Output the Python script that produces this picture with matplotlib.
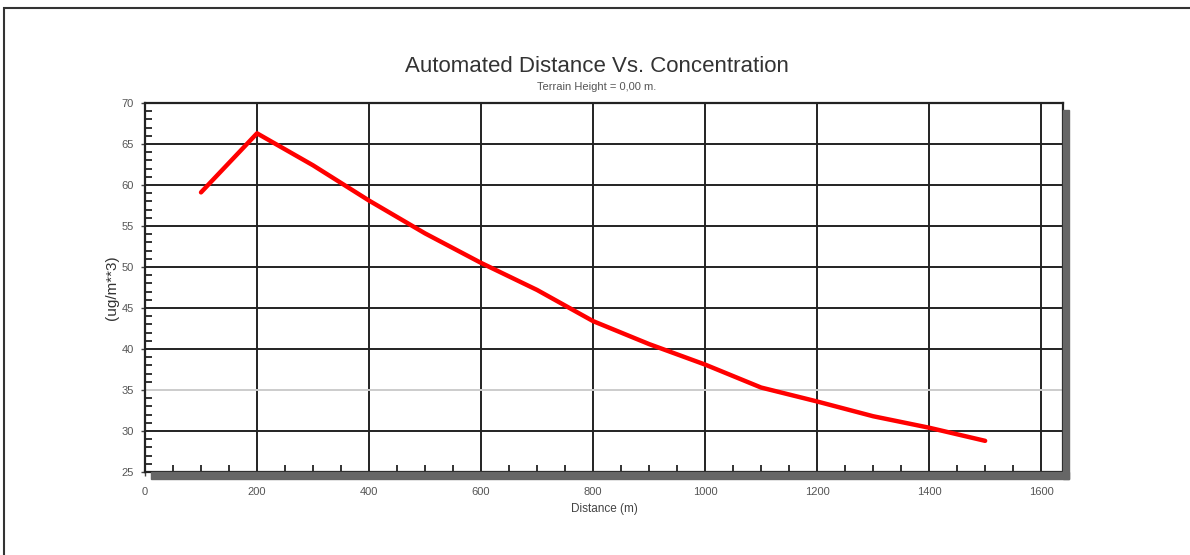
import matplotlib
matplotlib.use("Agg")
import matplotlib.pyplot as plt
from matplotlib.patches import Rectangle
from matplotlib.ticker import MultipleLocator

# distance (m) vs concentration (ug/m**3)
distance = [100, 200, 300, 400, 500, 600, 700, 800, 900, 1000, 1100, 1200, 1300, 1400, 1500]
concentration = [59.1, 66.3, 62.4, 58.1, 54.1, 50.5, 47.2, 43.4, 40.6, 38.1, 35.3, 33.6, 31.8, 30.4, 28.8]

x_ticks = [0, 200, 400, 600, 800, 1000, 1200, 1400, 1600]
y_ticks = [25, 30, 35, 40, 45, 50, 55, 60, 65, 70]

plt.rcParams['font.family'] = ['Liberation Sans', 'DejaVu Sans']

W, H = 1190, 555
fig = plt.figure(figsize=(W / 100, H / 100), dpi=100)
fig.patch.set_facecolor('white')

# outer frame around the whole picture
fig.patches.append(Rectangle((4 / W, -0.1), 1.2, 1 - 8 / H + 0.1, transform=fig.transFigure,
                             fill=False, edgecolor='#333333', linewidth=1.5, zorder=0))

left, right, top, bottom = 145, 1063, 103, 472
ax = fig.add_axes([left / W, 1 - bottom / H, (right - left) / W, (bottom - top) / H])

# drop shadow on right and bottom of plot frame
fig.patches.append(Rectangle((right / W, 1 - (bottom + 7) / H), 6 / W, (bottom - top) / H,
                             transform=fig.transFigure, color='#666666', zorder=0))
fig.patches.append(Rectangle(((left + 6) / W, 1 - (bottom + 7) / H), (right - left) / W, 7 / H,
                             transform=fig.transFigure, color='#666666', zorder=0))

ax.plot(distance, concentration, color='#ff0000', linewidth=3.2, solid_capstyle='round', zorder=3)

ax.set_xlim(0, 1639)
ax.set_ylim(25, 70)
ax.set_xticks(x_ticks)
ax.set_yticks(y_ticks)
ax.xaxis.set_minor_locator(MultipleLocator(50))
ax.yaxis.set_minor_locator(MultipleLocator(1))

ax.grid(True, which='major', color='#222222', linewidth=1.4)
ax.yaxis.get_gridlines()[y_ticks.index(35)].set_color('#cccccc')
ax.set_axisbelow(True)

for s in ax.spines.values():
    s.set_color('#222222')
    s.set_linewidth(1.6)

ax.tick_params(which='major', direction='out', length=3, width=1, colors='#444444',
               labelsize=8, labelcolor='#555555')
ax.tick_params(axis='x', which='major', pad=8)
ax.tick_params(axis='y', which='major', pad=5)
ax.tick_params(which='minor', direction='in', length=5, width=1.4, colors='#333333')

ax.set_xlabel('Distance (m)', fontsize=8.5, color='#444444', labelpad=4)
ax.set_ylabel('(ug/m**3)', fontsize=11, color='#333333', labelpad=2)

fig.text(597 / W, 1 - 66 / H, 'Automated Distance Vs. Concentration', ha='center', va='center',
         fontsize=16, color='#333333')
fig.text(597 / W, 1 - 87 / H, 'Terrain Height = 0,00 m.', ha='center', va='center',
         fontsize=8, color='#555555')

fig.savefig('out.png', dpi=100, facecolor='white')
